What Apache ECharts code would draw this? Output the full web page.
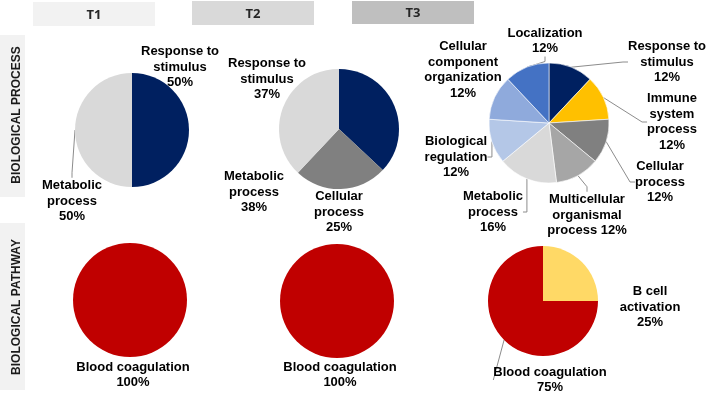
<!DOCTYPE html>
<html>
<head>
<meta charset="utf-8">
<script src="https://cdn.jsdelivr.net/npm/echarts@6/dist/echarts.min.js"></script>
<style>
html,body{margin:0;padding:0;background:#fff;}
#chart{width:709px;height:395px;}
</style>
</head>
<body>
<div id="chart"></div>
<script>
// ---- data ----
const columnTitles = ['T1', 'T2', 'T3'];
const rowTitles = ['BIOLOGICAL PROCESS', 'BIOLOGICAL PATHWAY'];

const processT1Names = ['Response to stimulus', 'Metabolic process'];
const processT1Labels = ['Response to\nstimulus\n', 'Metabolic\nprocess\n'];
const processT1Values = [50, 50];

const processT2Names = ['Response to stimulus', 'Cellular process', 'Metabolic process'];
const processT2Labels = ['Response to\nstimulus\n', 'Cellular\nprocess\n', 'Metabolic\nprocess\n'];
const processT2Values = [37, 25, 38];

const processT3Names = ['Response to stimulus', 'Immune system process', 'Cellular process',
  'Multicellular organismal process', 'Metabolic process', 'Biological regulation',
  'Cellular component organization', 'Localization'];
const processT3Labels = ['Response to\nstimulus\n', 'Immune\nsystem\nprocess\n', 'Cellular\nprocess\n',
  'Multicellular\norganismal\nprocess ', 'Metabolic\nprocess\n', 'Biological\nregulation\n',
  'Cellular\ncomponent\norganization\n', 'Localization\n'];
const processT3Values = [12, 12, 12, 12, 16, 12, 12, 12];

const pathwayT1Names = ['Blood coagulation'];
const pathwayT1Labels = ['Blood coagulation\n'];
const pathwayT1Values = [100];

const pathwayT2Names = ['Blood coagulation'];
const pathwayT2Labels = ['Blood coagulation\n'];
const pathwayT2Values = [100];

const pathwayT3Names = ['B cell activation', 'Blood coagulation'];
const pathwayT3Labels = ['B cell\nactivation\n', 'Blood coagulation\n'];
const pathwayT3Values = [25, 75];

// ---- style / layout ----
const colorMap = {
  'Response to stimulus': '#002060',
  'Metabolic process': '#d9d9d9',
  'Cellular process': '#808080',
  'Immune system process': '#ffc000',
  'Multicellular organismal process': '#a6a6a6',
  'Biological regulation': '#b4c7e7',
  'Cellular component organization': '#8faadc',
  'Localization': '#4472c4',
  'Blood coagulation': '#c00000',
  'B cell activation': '#ffd966'
};

const panels = [
  {names: processT1Names, labels: processT1Labels, values: processT1Values,
   center: [132, 130], r: 57,
   labelPos: [[180, 67], [72, 201]], lines: [false, true], border: 0},
  {names: processT2Names, labels: processT2Labels, values: processT2Values,
   center: [339, 129], r: 60,
   labelPos: [[267, 79], [339, 212], [254, 192]], lines: [false, false, false], border: 0},
  {names: processT3Names, labels: processT3Labels, values: processT3Values,
   center: [549, 123], r: 60,
   labelPos: [[667, 62], [672, 122], [660, 182], [587, 215], [493, 212], [456, 157], [463, 70], [545, 41]],
   lines: [true, true, true, true, true, true, false, true], border: 0.6},
  {names: pathwayT1Names, labels: pathwayT1Labels, values: pathwayT1Values,
   center: [130, 300], r: 57, labelPos: [[133, 375]], lines: [false], border: 0},
  {names: pathwayT2Names, labels: pathwayT2Labels, values: pathwayT2Values,
   center: [337, 301], r: 57, labelPos: [[340, 375]], lines: [false], border: 0},
  {names: pathwayT3Names, labels: pathwayT3Labels, values: pathwayT3Values,
   center: [543, 301], r: 55, labelPos: [[650, 307], [550, 380]], lines: [false, true], border: 0}
];

const series = panels.map(function (p) {
  return {
    type: 'pie',
    center: p.center,
    radius: [0, p.r],
    startAngle: 90,
    clockwise: true,
    avoidLabelOverlap: false,
    silent: true,
    itemStyle: {borderColor: '#ffffff', borderWidth: p.border},
    data: p.names.map(function (n, i) {
      return {
        name: n,
        value: p.values[i],
        itemStyle: {color: colorMap[n]},
        label: {formatter: p.labels[i] + p.values[i] + '%'},
        labelLine: {show: p.lines[i]}
      };
    }),
    label: {
      show: true,
      position: 'outside',
      color: '#000',
      fontFamily: 'Liberation Sans, Arial, sans-serif',
      fontWeight: 'bold',
      fontSize: 13,
      lineHeight: 15.5,
      align: 'center'
    },
    labelLine: {
      show: true,
      length: 5,
      length2: 5,
      lineStyle: {color: '#8c8c8c', width: 1}
    },
    labelLayout: function (params) {
      const pos = p.labelPos[params.dataIndex];
      return {x: pos[0], y: pos[1], align: 'center', verticalAlign: 'middle', moveOverlap: null};
    }
  };
});

const headerBoxes = [
  {x: 33, y: 2, w: 122, h: 24, fill: '#f2f2f2'},
  {x: 192, y: 1, w: 122, h: 24, fill: '#d9d9d9'},
  {x: 352, y: 1, w: 122, h: 23, fill: '#bfbfbf'}
];
const rowBoxes = [
  {x: 0, y: 35, w: 25, h: 162, cy: 115},
  {x: 0, y: 223, w: 25, h: 167, cy: 307}
];

const graphic = [];
headerBoxes.forEach(function (b, i) {
  graphic.push({type: 'rect', shape: {x: b.x, y: b.y, width: b.w, height: b.h}, style: {fill: b.fill}, silent: true, z: 0});
  graphic.push({type: 'text', x: b.x + b.w / 2, y: b.y + b.h / 2 + 1,
    style: {text: columnTitles[i], fill: '#262626', font: 'bold 13px "Open Sans", sans-serif', align: 'center', verticalAlign: 'middle'}, z: 1});
});
rowBoxes.forEach(function (b, i) {
  graphic.push({type: 'rect', shape: {x: b.x, y: b.y, width: b.w, height: b.h}, style: {fill: '#f2f2f2'}, silent: true, z: 0});
  graphic.push({type: 'text', x: 17, y: b.cy, rotation: Math.PI / 2,
    style: {text: rowTitles[i], fill: '#1a1a1a', font: 'bold 12px "Liberation Sans", Arial, sans-serif', align: 'center', verticalAlign: 'middle'}, z: 1});
});

const chart = echarts.init(document.getElementById('chart'), null, {renderer: 'canvas'});
chart.setOption({
  animation: false,
  backgroundColor: '#ffffff',
  graphic: graphic,
  series: series
});
</script>
</body>
</html>
